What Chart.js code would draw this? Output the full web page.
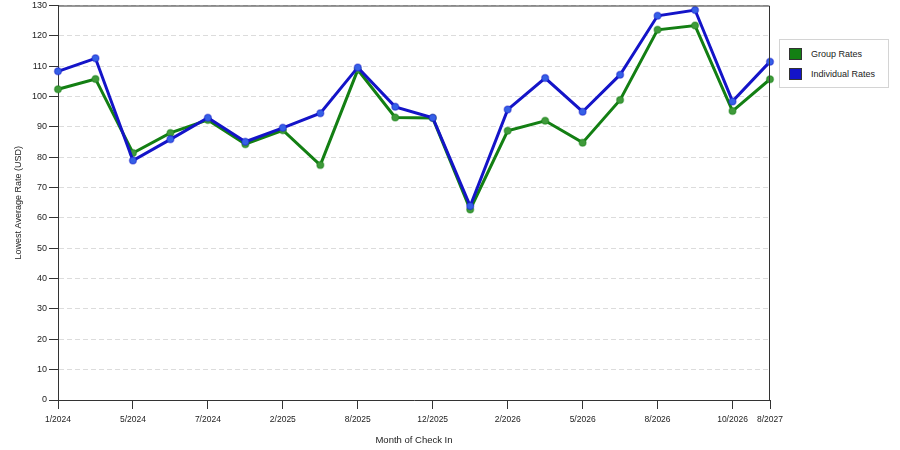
<!DOCTYPE html>
<html>
<head>
<meta charset="utf-8">
<script src="https://cdn.jsdelivr.net/npm/chart.js@4"></script>
<style>
  body { margin: 0; background: #fff; }
  #wrap { position: relative; width: 900px; height: 450px; }
  #legend {
    position: absolute; left: 779px; top: 39px; width: 110px; height: 49px;
    border: 1px solid #d4d4d4; box-sizing: border-box; background: #fff;
    font: 9px "Liberation Sans", Arial, sans-serif; color: #222;
  }
  #legend div { position: absolute; left: 9px; height: 12px; line-height: 12px; white-space: nowrap; }
  #legend span.sw { display: inline-block; width: 13px; height: 12px; border: 1px solid #333; box-sizing: border-box; vertical-align: top; margin-right: 9px; }
</style>
</head>
<body>
<div id="wrap">
  <canvas id="rateChart" width="900" height="450"></canvas>
  <div id="legend"></div>
</div>
<script>
// months along the x axis (unlabeled months left blank)
const months = [`1/2024`, ``, `5/2024`, ``, `7/2024`, ``, `2/2025`, ``, `8/2025`, ``,
  `12/2025`, ``, `2/2026`, ``, `5/2026`, ``, `8/2026`, ``, `10/2026`, `8/2027`]

// lowest average rate per month, USD
const groupRates = [102.4, 105.8, 81.4, 88.0, 92.3, 84.3, 88.9, 77.4, 108.8, 93.1,
  92.9, 62.8, 88.7, 92.0, 84.8, 98.9, 122.0, 123.4, 95.2, 105.7]
const individualRates = [108.3, 112.6, 78.9, 85.9, 93.0, 85.1, 89.7, 94.5, 109.6, 96.6,
  93.0, 63.9, 95.7, 106.1, 95.0, 107.2, 126.6, 128.5, 98.4, 111.5]

const yTicks = { min: 0, max: 130, step: 10 }

const fontFamily = `"Liberation Sans", Arial, sans-serif`

// frame on top/right of the plot
const frame = {
  id: `frame`,
  afterDraw(chart) {
    const { ctx, chartArea: a } = chart
    ctx.save()
    ctx.strokeStyle = `#333`
    ctx.lineWidth = 1
    ctx.beginPath()
    ctx.moveTo(a.left, a.top + 0.5)
    ctx.lineTo(a.right - 0.5, a.top + 0.5)
    ctx.lineTo(a.right - 0.5, a.bottom)
    ctx.stroke()
    ctx.restore()
  }
}

const series = [
  { label: `Group Rates`, data: groupRates, color: `#137f13`, point: `#3f9a3a`, order: 1 },
  { label: `Individual Rates`, data: individualRates, color: `#1414c8`, point: `#3560e6`, order: 0 }
]

let rateChart = new Chart(document.querySelector(`#rateChart`).getContext(`2d`), {
  type: `line`,
  data: {
    labels: months,
    datasets: series.map(s => ({
      label: s.label,
      data: s.data,
      order: s.order,
      borderColor: s.color,
      borderWidth: 3,
      pointRadius: 3.5,
      pointBackgroundColor: s.point,
      pointBorderColor: s.color + `66`,
      pointBorderWidth: 1.5,
      tension: 0,
      fill: false
    }))
  },
  options: {
    responsive: false,
    animation: false,
    layout: { padding: { left: 10, right: 130, top: 5, bottom: 0 } },
    plugins: { legend: { display: false }, tooltip: { enabled: false } },
    scales: {
      x: {
        offset: false,
        afterFit: s => { s.height = 50 },
        border: { color: `#333`, width: 1 },
        grid: {
          drawOnChartArea: false,
          tickLength: 9,
          tickColor: c => months[c.index] ? `#333` : `rgba(0,0,0,0)`
        },
        ticks: { autoSkip: false, maxRotation: 0, color: `#222`, font: { family: fontFamily, size: 8.5 }, padding: 6 },
        title: { display: true, text: `Month of Check In`, color: `#222`, font: { family: fontFamily, size: 9.5 }, padding: { top: 5 } }
      },
      y: {
        min: yTicks.min,
        max: yTicks.max,
        afterFit: s => { s.width = 48; s.paddingTop = 0; s.paddingBottom = 0 },
        border: { color: `#333`, width: 1, dash: [5, 3] },
        grid: {
          color: `#dcdcdc`,
          tickColor: `#333`,
          tickLength: 9,
          tickBorderDash: []
        },
        ticks: { stepSize: yTicks.step, color: `#222`, font: { family: fontFamily, size: 9 }, padding: 2 },
        title: { display: true, text: `Lowest Average Rate (USD)`, color: `#222`, font: { family: fontFamily, size: 9 }, padding: { top: 3, bottom: 4 } }
      }
    }
  },
  plugins: [frame]
})

// legend
let legend = document.querySelector(`#legend`)
series.forEach((s, i) => {
  let row = document.createElement(`div`)
  row.style.top = (8 + i * 20) + `px`
  row.innerHTML = `<span class="sw" style="background:${s.color}"></span>${s.label}`
  legend.appendChild(row)
})
</script>
</body>
</html>
